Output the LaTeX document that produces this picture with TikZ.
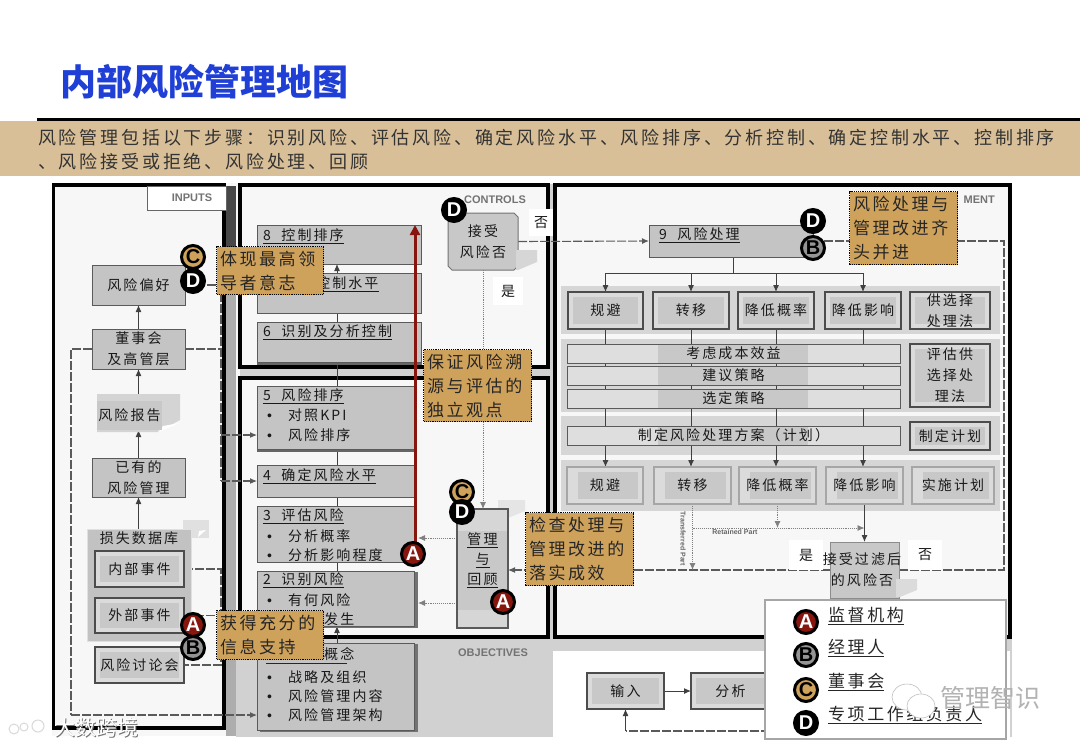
\documentclass[tikz,border=0pt]{standalone}
\usepackage{fontspec}
\usetikzlibrary{arrows.meta,shapes.misc,shadows,calc}
\setmainfont{Noto Sans CJK SC}
\newfontfamily\cjk[LetterSpace=15]{Noto Sans CJK SC}
\newfontfamily\cjkw[LetterSpace=15.6]{Noto Sans CJK SC}
\newfontfamily\lat{Liberation Sans}
\definecolor{titleblue}{HTML}{1F3FD6}
\definecolor{band}{HTML}{D9BF97}
\definecolor{callfill}{HTML}{CFA25C}
\definecolor{boxg}{HTML}{C4C4C4}
\definecolor{lineg}{HTML}{5A5A5A}
\definecolor{bandg}{HTML}{D6D6D6}
\definecolor{innerg}{HTML}{C8C8C8}
\definecolor{redl}{HTML}{86160E}
\definecolor{pagebg}{HTML}{F7F7F7}
\pgfdeclarelayer{bgl}
\pgfdeclarelayer{conn}
\pgfsetlayers{bgl,conn,main}
\newcommand{\bx}[7][]{%
 \pgfmathsetmacro\cxx{(#3+#5)/2}\pgfmathsetmacro\cyy{(#4+#6)/2}%
 \pgfmathsetmacro\wxx{#5-#3}\pgfmathsetmacro\hxx{#6-#4}%
 \node[minimum width=\wxx pt,minimum height=\hxx pt,inner sep=0pt,outer sep=0pt,#1] (#2) at (\cxx,\cyy) {#7};}
\tikzset{
 tip/.tip={Latex[length=7pt,width=6pt]},
 panel/.style={draw=black,line width=3.2pt,fill=pagebg},
 gbox/.style={draw=lineg,line width=1pt,fill=boxg},
 lbl/.style={font=\cjk\fontsize{14}{21}\selectfont,align=center,text=black!90},
 ttl/.style={anchor=west,inner sep=0pt,font=\cjk\fontsize{14}{18}\selectfont,text=black!90},
 thk/.style={draw=black!70,line width=2.4pt,fill=black!14,lbl,
   path picture={\fill[innerg] ([shift={(5pt,-5pt)}]path picture bounding box.north west) rectangle ([shift={(-5pt,5pt)}]path picture bounding box.south east);}},
 pale/.style={draw=black!35,line width=2pt,fill=black!14,lbl,
   path picture={\fill[innerg] ([shift={(11pt,-5pt)}]path picture bounding box.north west) rectangle ([shift={(-5pt,5pt)}]path picture bounding box.south east);}},
 bar/.style={draw=lineg,line width=1pt,fill=black!13,lbl,
   path picture={\fill[innerg] ([xshift=-76pt]path picture bounding box.south) rectangle ([xshift=74pt]path picture bounding box.north);}},
 callout/.style={draw=black,densely dotted,line width=1.2pt,fill=callfill,anchor=north west,inner sep=0pt,
   font=\cjk\fontsize{17}{24}\selectfont,align=left,text=black!85},
 badge/.style={circle,draw=black,line width=3pt,minimum size=23pt,inner sep=0pt,font=\lat\bfseries\fontsize{20}{20}\selectfont},
 ba/.style={badge,fill=redl,text=white},
 bb/.style={badge,fill=black!42,text=black},
 bc/.style={badge,fill=callfill,text=black},
 bd/.style={badge,fill=black,text=white},
 arr/.style={draw=black!75,line width=1pt,-{Latex[length=7pt,width=6pt]}},
 ln/.style={draw=black!75,line width=1pt},
 dsh/.style={draw=lineg,line width=1.1pt,dash pattern=on 9pt off 2pt},
 dts/.style={draw=black!50,line width=.9pt,densely dotted},
 head/.style={font=\lat\bfseries\fontsize{11}{11}\selectfont,text=black!55,inner sep=0pt},
 wlab/.style={fill=white,lbl,inner sep=0pt},
 leg/.style={anchor=west,inner sep=0pt,font=\cjk\fontsize{17}{20}\selectfont,text=black!85},
 octa/.style={chamfered rectangle,chamfered rectangle xsep=2pt,chamfered rectangle ysep=2pt,chamfered rectangle angle=45,inner sep=0pt,outer sep=0pt},
}
\newcommand{\uu}[1]{\underline{#1}}
\newcommand{\bul}{{\lat •}\hspace{16pt}}
\begin{document}
\begin{tikzpicture}[x=1pt,y=-1pt]
\useasboundingbox (0,0) rectangle (1080,748);
\begin{pgfonlayer}{bgl}
 \fill[white] (0,0) rectangle (1080,748);
 \fill[pagebg] (52,183) rectangle (1012,736);
 \fill[black!72] (226,186) rectangle (236,250);
 \fill[black!32] (226,250) rectangle (236,736);
 \fill[black!18] (236,637) rectangle (1012,737);
 \fill[black!18] (548,184) rectangle (555,637);
 \fill[black!18] (240,369) rectangle (548,376);
 \draw[panel] (53.5,185) rectangle (224,728);
 \draw[panel] (240,185) rectangle (548,367);
 \draw[panel] (240,378) rectangle (548,637);
 \draw[panel] (555,185) rectangle (1010,637);
 \fill[white] (553,651) rectangle (1010,737);
 \fill[bandg] (561,286) rectangle (1000,334);
 \fill[bandg] (561,339) rectangle (1000,412);
 \fill[bandg] (561,416) rectangle (1000,455);
 \fill[bandg] (561,460) rectangle (1000,511);
\end{pgfonlayer}

% title and intro
\node[anchor=west,inner sep=0pt,font=\fontsize{36}{38}\bfseries\selectfont,text=titleblue] (title) at (60,82) {内部风险管理地图};
\fill[black] (37,118) rectangle (1080,121);
\fill[band] (0,121) rectangle (1080,176);
\node[anchor=west,inner sep=0pt,font=\cjkw\fontsize{18}{24}\selectfont,align=left,text=black!80] (intro) at (38,150)
 {风险管理包括以下步骤：识别风险、评估风险、确定风险水平、风险排序、分析控制、确定控制水平、控制排序\\、风险接受或拒绝、风险处理、回顾};

% headings
\bx[draw=black!60,line width=1pt,fill=white]{inputsb}{147}{186}{226}{210}{}
\node[head] (inputs) at (192,198) {INPUTS};
\node[head] (controls) at (495,200) {CONTROLS};
\node[head] (objectives) at (493,653) {OBJECTIVES};
\node[head,anchor=east] (ment) at (995,200) {MENT};

% left column
\bx[gbox,lbl]{pref}{92}{265}{185}{305}{风险偏好}
\bx[gbox,lbl]{board}{92}{329}{185}{369}{董事会\\及高管层}
\fill[black!17] (97,394) -- (180,394) -- (180,420) -- (158,432) -- (97,432) -- cycle;
\fill[white] (158,432) -- (180,423) -- (163,426) -- cycle;
\bx[fill=innerg,lbl]{report}{97}{401}{162}{430}{风险报告}
\bx[gbox,lbl]{exist}{92}{458}{185}{497}{已有的\\风险管理}
\fill[black!12] (183,520) rectangle (209,538);
\fill[white] (198,537) -- (206,530) -- (199,531) -- cycle;
\bx[fill=black!24,draw=black!12,line width=.8pt]{lossdb}{87}{529}{191}{641}{}
\node[lbl,inner sep=0pt] (losst) at (139,538) {损失数据库};
\bx[thk]{inner}{95}{551}{184}{587}{内部事件}
\bx[thk]{outer}{95}{598}{184}{633}{外部事件}
\bx[thk]{meet}{95}{647}{184}{683}{风险讨论会}

% centre column
\bx[gbox]{b8}{257}{225}{421}{264}{}
\node[ttl] (t8) at (263,236) {\uu{8 \ 控制排序}};
\bx[gbox]{b7}{257}{273}{421}{313}{}
\node[ttl] (t7) at (316,284) {\uu{控制水平}};
\bx[gbox,copy shadow={shadow xshift=0pt,shadow yshift=-2pt,fill=black!60,draw=black!60}]{b6}{257}{322}{421}{362}{}
\node[ttl] (t6) at (263,332) {\uu{6 \ 识别及分析控制}};
\bx[gbox,copy shadow={shadow xshift=0pt,shadow yshift=-2pt,fill=black!60,draw=black!60}]{b5}{257}{386}{414}{449}{}
\node[ttl] (t5) at (263,396) {\uu{5 \ 风险排序}};
\node[ttl] (d5a) at (267,415) {\bul 对照KPI};
\node[ttl] (d5b) at (267,435) {\bul 风险排序};
\bx[gbox]{b4}{257}{465}{414}{497}{}
\node[ttl] (t4) at (263,476) {\uu{4 \ 确定风险水平}};
\bx[gbox]{b3}{257}{506}{414}{562}{}
\node[ttl] (t3) at (263,516) {\uu{3 \ 评估风险}};
\node[ttl] (d3a) at (267,536) {\bul 分析概率};
\node[ttl] (d3b) at (267,555) {\bul 分析影响程度};
\bx[gbox,copy shadow={shadow xshift=3pt,shadow yshift=-1pt,fill=black!55,draw=black!55}]{b2}{257}{571}{414}{626}{}
\node[ttl] (t2) at (263,580) {\uu{2 \ 识别风险}};
\node[ttl] (d2a) at (267,600) {\bul 有何风险};
\node[ttl] (d2b) at (324,619) {发生};
\bx[gbox,copy shadow={shadow xshift=3pt,shadow yshift=-1pt,fill=black!55,draw=black!55}]{b1}{257}{643}{414}{730}{}
\node[ttl] (t1) at (324,654) {概念};
\draw[black!85,line width=.8pt] (266,663) -- (347,663);
\node[ttl] (d1a) at (267,677) {\bul 战略及组织};
\node[ttl] (d1b) at (267,696) {\bul 风险管理内容};
\node[ttl] (d1c) at (267,715) {\bul 风险管理架构};

\node[octa,draw=black!55,line width=1pt,fill=innerg,minimum width=70pt,minimum height=57pt,lbl] (q1) at (483,241.5) {接受\\风险否};
\fill[black!16] (516,250) -- (537,250) -- (537,262) -- (518,270) -- (516,270) -- cycle;
\fill[black!10] (498,500) -- (525,500) -- (525,511) -- (508,518) -- (498,518) -- cycle;
\bx[draw=black!65,line width=1.5pt,fill=black!16,
  path picture={\fill[innerg] ($(path picture bounding box.north west)+(0pt,-22pt)$) rectangle ($(path picture bounding box.south east)+(0pt,18pt)$);}]{rev}{457}{509}{508}{628}{}
\node[lbl,inner sep=0pt,font=\cjk\fontsize{14}{20}\selectfont] (revt) at (482.5,560) {\uu{管理}\\\uu{与}\\\uu{回顾}};
\bx[wlab]{no1}{529}{209}{553}{236}{否}
\bx[wlab]{yes1}{493}{277}{523}{305}{是}

% right column
\bx[gbox]{r9}{649}{225}{813}{257}{}
\node[ttl] (t9) at (659,235) {\uu{9 \ 风险处理}};
\bx[thk]{a1}{568}{292}{643}{329}{规避}
\bx[thk]{a2}{653}{292}{729}{329}{转移}
\bx[thk]{a3}{738}{292}{814}{329}{降低概率}
\bx[thk]{a4}{825}{292}{901}{329}{降低影响}
\bx[thk]{a5}{910}{292}{990}{329}{供选择\\处理法}
\bx[bar]{c1}{567}{344}{900}{363}{考虑成本效益}
\bx[bar]{c2}{567}{366}{900}{385}{建议策略}
\bx[bar]{c3}{567}{389}{900}{408}{选定策略}
\bx[thk]{c4}{910}{344}{990}{407}{评估供\\选择处\\理法}
\bx[bar]{e1}{567}{426}{900}{445}{制定风险处理方案（计划）}
\bx[thk]{e2}{910}{422}{990}{450}{制定计划}
\bx[pale]{f1}{567}{467}{643}{504}{规避}
\bx[pale]{f2}{654}{467}{731}{504}{转移}
\bx[pale]{f3}{739}{467}{816}{504}{降低概率}
\bx[pale]{f4}{826}{467}{903}{504}{降低影响}
\bx[pale]{f5}{912}{467}{994}{504}{实施计划}
\node[octa,draw=black!45,line width=1pt,fill=innerg,minimum width=69pt,minimum height=56pt] (q2) at (864.5,570) {};
\fill[black!14] (896,579) -- (917,579) -- (917,590) -- (900,597) -- (896,597) -- cycle;
\node[lbl,inner sep=0pt] (q2t) at (862,570) {接受过滤后\\的风险否};
\bx[wlab]{yes2}{789}{540}{823}{570}{是}
\bx[wlab]{no2}{908}{540}{942}{570}{否}
\node[font=\lat\bfseries\fontsize{7}{7}\selectfont,text=black!60,inner sep=0pt] (retained) at (735,532) {Retained Part};
\node[font=\lat\bfseries\fontsize{7}{7}\selectfont,text=black!60,inner sep=0pt,rotate=-90] (transfer) at (683,539) {Transferred Part};

% objectives
\bx[thk]{input}{587}{673}{664}{709}{输入}
\bx[thk]{anal}{691}{673}{770}{709}{分析}
\coordinate (fbk) at (770,731);

% connectors
\begin{pgfonlayer}{conn}
 \coordinate (vl) at (71,0);
 \coordinate (vr) at (221,0);
 \coordinate (vm) at (337,0);
 \draw[arr] (board.north) -- (pref.south);
 \draw[arr] (report.north -| board.south) -- (board.south);
 \draw[arr] (exist.north) -- (exist.north |- report.south);
 \draw[arr] (lossdb.north -| exist.south) -- (exist.south);
 \draw[dsh] (board.west) -- (board.west -| vl) -- (vl |- d1c.west);
 \draw[dsh,-{Latex[length=7pt,width=6pt]}] (vl |- d1c.west) -- (b1.west |- d1c.west);
 \draw[dsh] (board.east) -- (board.east -| vr);
 \draw[dsh] (pref.east) -- (pref.east -| vr) -- (vr |- b4.west);
 \draw[dsh,-{Latex[length=7pt,width=6pt]}] (vr |- d5b.west) -- (b5.west |- d5b.west);
 \draw[dsh,-{Latex[length=7pt,width=6pt]}] (vr |- b4.west) -- (b4.west);
 \draw[dsh] (inner.east) -- (inner.east -| vr) -- (vr |- meet.east) -- (meet.east);
 \draw[dsh] (outer.east) -- (outer.east -| vr);
 \draw[arr] (b1.north -| vm) -- (b2.south -| vm);
 \draw[ln] (b2.north -| vm) -- (b3.south -| vm);
 \draw[ln] (b3.north -| vm) -- (b4.south -| vm);
 \draw[ln] (b4.north -| vm) -- (b5.south -| vm);
 \draw[ln] (b5.north -| vm) -- (b6.south -| vm);
 \draw[ln] (b6.north -| vm) -- (b7.south -| vm);
 \draw[arr] (b7.north -| vm) -- (b8.south -| vm);
 \draw[dts,-{Latex[length=7pt,width=6pt]}] (q1.south) -- (rev.north -| q1.south);
 \coordinate (y3) at (0,538);
 \coordinate (y2) at (0,603);
 \draw[dts,-{Latex[length=7pt,width=6pt]},shorten >=4pt] (rev.west |- y3) -- (b3.east |- y3);
 \draw[dts,-{Latex[length=7pt,width=6pt]},shorten >=4pt] (rev.west |- y2) -- (b2.east |- y2);
 \draw[dsh,-{Latex[length=7pt,width=6pt]}] (q1.east) -- (r9.west);
 \coordinate (bus) at (733,273);
 \draw[ln] (r9.south -| bus) -- (bus);
 \draw[ln] (bus -| a1.north) -- (bus -| a4.north);
 \foreach \n in {a1,a2,a3,a4} {
  \draw[arr] (bus -| \n.north) -- (\n.north);
  \draw[arr] (\n.south) -- (f1.north -| \n.south);
 }
 \coordinate (rt) at (1004,0);
 \draw[dsh] (r9.east) -- (r9.east -| rt) -- (rt |- q2.east) -- (q2.east);
 \draw[dsh,-{Latex[length=7pt,width=6pt]}] (q2.west) -- (rev.east |- q2.west);
 \coordinate (yr) at (0,528);
 \draw[dts,-{Latex[length=7pt,width=6pt]}] (f2.south) -- (f2.south |- q2.west);
 \draw[dts,-{Latex[length=7pt,width=6pt]}] (f3.south) -- (f3.south |- yr);
 \draw[dts,-{Latex[length=7pt,width=6pt]}] (f2.south |- yr) -- (q2.north |- yr);
 \draw[arr] (f4.south) -- (q2.north -| f4.south);
 \draw[arr] (input.east) -- (anal.west);
 \draw[dsh] (fbk) -- (fbk -| input.south);
 \draw[arr] (fbk -| input.south) -- (input.south);
\end{pgfonlayer}

% red line
\coordinate (redx) at (415,0);
\coordinate (reda) at (415,554);
\draw[redl,line width=3pt,-{Triangle[length=10pt,width=10pt]}] (reda) -- (redx |- b8.north);

% callouts
\node[callout,minimum width=107pt,minimum height=48pt,text width=104pt] (cc1) at (216,246) {\hspace*{2pt}体现最高领\\\hspace*{2pt}导者意志};
\node[callout,minimum width=108pt,minimum height=72pt,text width=105pt] (cc2) at (423,349) {\hspace*{2pt}保证风险溯\\\hspace*{2pt}源与评估的\\\hspace*{2pt}独立观点};
\node[callout,minimum width=108pt,minimum height=73pt,text width=105pt] (cc3) at (525,512) {\hspace*{2pt}检查处理与\\\hspace*{2pt}管理改进的\\\hspace*{2pt}落实成效};
\node[callout,minimum width=107pt,minimum height=49pt,text width=104pt] (cc4) at (216,610) {\hspace*{2pt}获得充分的\\\hspace*{2pt}信息支持};
\node[callout,minimum width=108pt,minimum height=73pt,text width=105pt] (cc5) at (849,191) {\hspace*{2pt}风险处理与\\\hspace*{2pt}管理改进齐\\\hspace*{2pt}头并进};

% badges
\node[bc] (g1) at (193,257) {C};
\node[bd] (g2) at (193,281) {D};
\node[bd] (g3) at (454,210) {D};
\node[ba] (g4) at (413,554) {A};
\node[bc] (g5) at (462,492) {C};
\node[bd] (g6) at (462,512) {D};
\node[ba] (g7) at (503,602) {A};
\node[ba] (g8) at (193,625) {A};
\node[bb] (g9) at (193,648) {B};
\node[bd] (g10) at (813,221) {D};
\node[bb] (g11) at (813,248) {B};

% legend
\bx[draw=black!35,line width=2.5pt,fill=white]{legend}{765}{600}{1006}{739}{}
\node[ba] (la) at (806,622) {A};
\node[bb] (lb) at (806,655) {B};
\node[bc] (lc) at (806,690) {C};
\node[bd] (ld) at (806,723) {D};
\node[leg] (ta) at (828,616) {\uu{监督机构}};
\node[leg] (tb) at (828,648) {\uu{经理人}};
\node[leg] (tc) at (828,682) {\uu{董事会}};
\node[leg] (td) at (828,715) {\uu{专项工作组负责人}};

% watermarks
\fill[white,draw=black!25,line width=.6pt] (907,697) ellipse (15 and 13);
\fill[white,draw=black!25,line width=.6pt] (921,706) ellipse (14 and 12);
\node[inner sep=0pt,font=\fontsize{25}{27}\selectfont,text=black!30] (wm1) at (990,698) {管理智识};
\draw[white!70!gray,line width=1pt] (14,729) circle (5);
\draw[white!70!gray,line width=1pt] (24,727) circle (4);
\draw[white!70!gray,line width=1pt] (38,726) circle (6);
\node[inner sep=0pt,font=\fontsize{21}{22}\selectfont,text=black!55] (wm2s) at (97.5,728) {大数跨境};
\node[inner sep=0pt,font=\fontsize{21}{22}\selectfont,text=white] (wm2) at (96.5,727) {大数跨境};
\end{tikzpicture}
\end{document}
